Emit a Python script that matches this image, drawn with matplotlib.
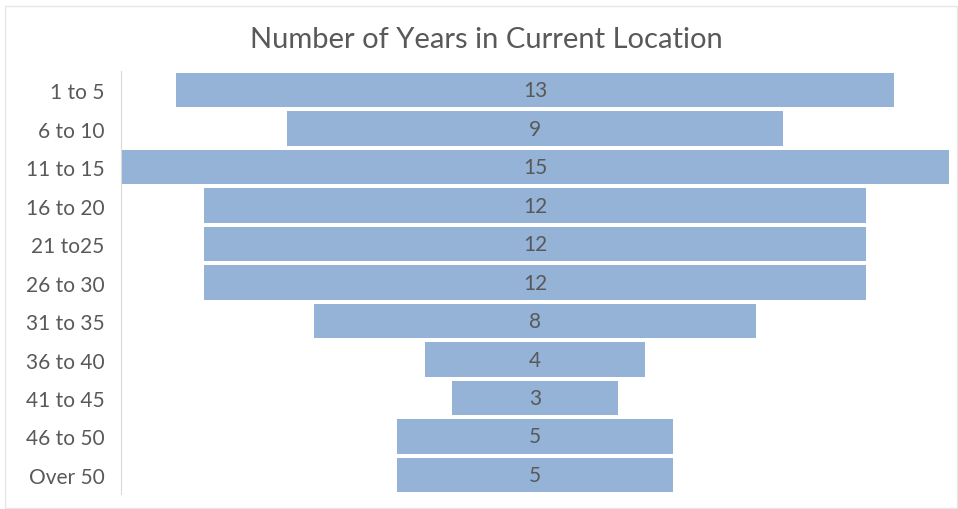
import matplotlib.pyplot as plt
from matplotlib.patches import Rectangle

# categorie e valori (anni nella posizione attuale)
categories = ["1 to 5", "6 to 10", "11 to 15", "16 to 20", "21 to25", "26 to 30",
              "31 to 35", "36 to 40", "41 to 45", "46 to 50", "Over 50"]
values = [13, 9, 15, 12, 12, 12, 8, 4, 3, 5, 5]

plt.rcParams['font.family'] = ['Lato', 'DejaVu Sans']

fig = plt.figure(figsize=(9.58, 5.10), dpi=100)
ax = fig.add_axes([0.1263, 0.029, 0.8643, 0.83])

y = list(range(len(categories)))
lefts = [-v / 2 for v in values]
ax.barh(y, values, left=lefts, height=0.9, color="#95B3D7", edgecolor="none")

# etichette al centro delle barre
for yi, v in zip(y, values):
    ax.text(0, yi, str(v), ha="center", va="center", fontsize=15, color="#595959")

ax.set_xlim(-7.5, 7.5)
ax.set_ylim(len(categories) - 0.5, -0.5)
ax.set_yticks(y)
ax.set_yticklabels(categories, fontsize=15, color="#595959")
ax.tick_params(axis="y", length=0, pad=12)
ax.set_xticks([])
for side in ["top", "right", "bottom"]:
    ax.spines[side].set_visible(False)
ax.spines["left"].set_color("#D9D9D9")

fig.text(0.508, 0.921, "Number of Years in Current Location", ha="center", va="center",
         fontsize=21, color="#595959")

# bordo dell'area grafico
fig.patches.append(Rectangle((0.005, 0.002), 0.994, 0.984, transform=fig.transFigure,
                             fill=False, edgecolor="#E6E6E6", linewidth=1))

plt.savefig("out.png", dpi=100)
